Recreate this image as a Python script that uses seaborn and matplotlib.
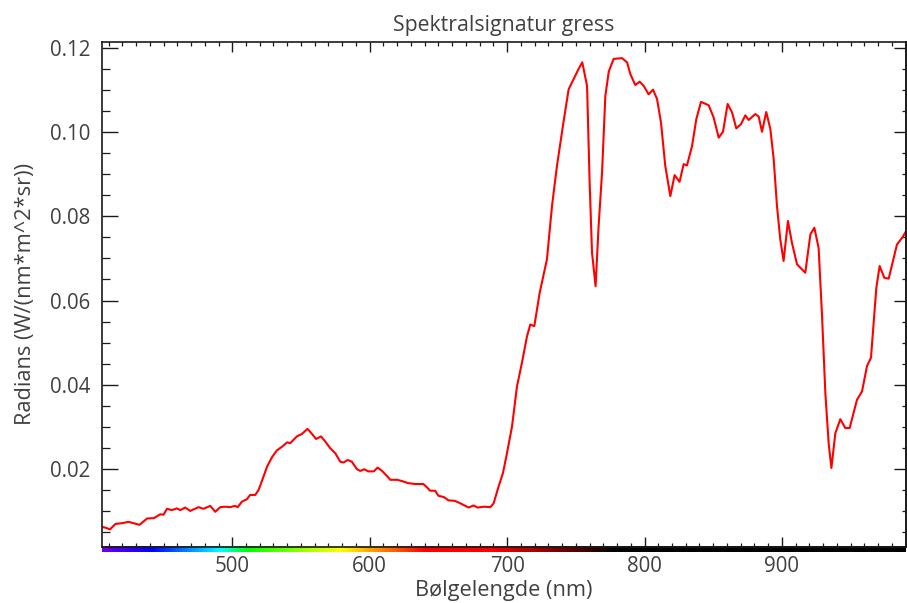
import numpy as np
import pandas as pd
import matplotlib
matplotlib.use("Agg")
import matplotlib.pyplot as plt
from matplotlib.colors import LinearSegmentedColormap
from matplotlib.ticker import MultipleLocator, FormatStrFormatter, NullFormatter
import seaborn as sns

# ---- data ----
wavelength = [404, 408, 411, 415, 420, 424.5, 428, 432.5, 438, 443, 447.6, 450, 452.5, 456, 459.7,
              462.2, 465.8, 469.4, 475.5, 479, 484, 487.6, 491.3, 495, 498.5, 502, 504, 507, 510.7,
              513, 516.7, 519.2, 522.8, 525.3, 529, 532.5, 536, 540, 542.2, 547, 550.7, 554.8, 558,
              561, 564.6, 567.7, 571.3, 575, 578.6, 581, 584, 587, 590.8, 593.2, 596, 599, 603,
              605.8, 609, 612.6, 615, 620, 623.5, 628, 633, 639, 641.7, 644, 647.7, 650, 654,
              657.4, 662, 666, 672, 675.6, 678.5, 683, 687.8, 690.2, 693.8, 697, 699.9, 703.6,
              707.2, 710.8, 714.5, 716.9, 719.8, 723.7, 729, 732.7, 736.3, 741, 744.8, 748.4, 752,
              754.7, 758.2, 760, 761.8, 764.4, 766.6, 769.1, 771.5, 774, 777.5, 783.6, 787.3, 789.7,
              793.3, 796.5, 799.4, 803, 806.2, 809.1, 812, 815.1, 818.8, 821.9, 825.5, 828.5, 830.9,
              834.6, 837.7, 841.1, 846.7, 850.3, 854, 857.1, 860.5, 863.7, 866.8, 870.2, 873.4,
              875.8, 880.6, 883.1, 885.5, 888.6, 891.6, 894, 896.4, 898.8, 901.2, 904.4, 907.3, 911,
              917, 920.7, 923.6, 926.7, 929.2, 931.6, 934, 936, 938.9, 942.5, 946.1, 949.3, 954.6,
              958.3, 961.9, 964.8, 968.7, 971.1, 974.5, 977.7, 983.7, 988.1, 991]
radiance = [0.0063, 0.0060, 0.0056, 0.0069, 0.0071, 0.0074, 0.0071, 0.0067, 0.0082, 0.0083, 0.0092,
            0.0091, 0.0105, 0.0102, 0.0106, 0.0102, 0.0108, 0.0100, 0.0109, 0.0105, 0.0112, 0.0098,
            0.0109, 0.0110, 0.0109, 0.0112, 0.0109, 0.0122, 0.0128, 0.0138, 0.0138, 0.0150, 0.0182,
            0.0205, 0.0228, 0.0244, 0.0252, 0.0263, 0.0261, 0.0277, 0.0283, 0.0295, 0.0283, 0.0271,
            0.0277, 0.0265, 0.0249, 0.0237, 0.0217, 0.0215, 0.0221, 0.0217, 0.0199, 0.0195, 0.0199,
            0.0194, 0.0194, 0.0203, 0.0195, 0.0183, 0.0174, 0.0174, 0.0171, 0.0166, 0.0164, 0.0164,
            0.0156, 0.0148, 0.0148, 0.0136, 0.0133, 0.0125, 0.0124, 0.0118, 0.0108, 0.0113, 0.0108,
            0.0110, 0.0109, 0.0118, 0.0158, 0.0190, 0.0237, 0.0301, 0.0396, 0.0452, 0.0515, 0.0543,
            0.0539, 0.0618, 0.0698, 0.0825, 0.0920, 0.1023, 0.1102, 0.1126, 0.1150, 0.1166, 0.1110,
            0.0888, 0.0714, 0.0634, 0.0777, 0.0904, 0.1086, 0.1144, 0.1174, 0.1176, 0.1166, 0.1138,
            0.1112, 0.1120, 0.1110, 0.1090, 0.1101, 0.1079, 0.1023, 0.0920, 0.0848, 0.0898, 0.0882,
            0.0924, 0.0921, 0.0967, 0.1031, 0.1072, 0.1064, 0.1035, 0.0987, 0.1001, 0.1067, 0.1047,
            0.1009, 0.1019, 0.1040, 0.1029, 0.1043, 0.1037, 0.1001, 0.1048, 0.1007, 0.0936, 0.0825,
            0.0745, 0.0694, 0.0789, 0.0737, 0.0686, 0.0666, 0.0757, 0.0773, 0.0725, 0.0563, 0.0380,
            0.0261, 0.0202, 0.0285, 0.0318, 0.0297, 0.0297, 0.0364, 0.0384, 0.0444, 0.0464, 0.0630,
            0.0682, 0.0654, 0.0652, 0.0733, 0.0752, 0.0769]

x_major_ticks = [500, 600, 700, 800, 900]
y_major_ticks = [0.02, 0.04, 0.06, 0.08, 0.10, 0.12]

title_text = "Spektralsignatur gress"
xlabel_text = "Bølgelengde (nm)"
ylabel_text = "Radians (W/(nm*m^2*sr))"

# spectrum colour stops (wavelength nm, colour)
spectrum_nm = [400, 440, 490, 510, 578, 640, 688, 780, 1000]
spectrum_col = ["#7a00e0", "#0000ff", "#00ffff", "#00ff00", "#ffff00", "#ff0000",
                "#ff0000", "#000000", "#000000"]

XMIN, XMAX = 405, 990
YMIN, YMAX = 0.0015, 0.1215

df = pd.DataFrame({"nm": wavelength, "rad": radiance})

sns.set_style("white")
plt.rcParams["font.family"] = ["Open Sans", "DejaVu Sans"]
TXT = "#404040"
AX = "#1a1a1a"

W, H = 907, 603
fig = plt.figure(figsize=(W / 100, H / 100), dpi=100)
left, right, top, bottom = 101.7, 905.6, 41.7, 546.7
ax = fig.add_axes([left / W, 1 - bottom / H, (right - left) / W, (bottom - top) / H])

sns.lineplot(data=df, x="nm", y="rad", ax=ax, color="#ff0000", linewidth=1.5,
             estimator=None, sort=False)

# spectral colour band just under the x axis (x in data, y in axes units)
pos = [(v - spectrum_nm[0]) / (spectrum_nm[-1] - spectrum_nm[0]) for v in spectrum_nm]
cmap = LinearSegmentedColormap.from_list("spec", list(zip(pos, spectrum_col)))
band_h = 5.5 / (bottom - top)
grad = np.linspace(XMIN, XMAX, 600)[None, :]
ax.imshow(grad, extent=[XMIN, XMAX, -band_h, 0], aspect="auto", cmap=cmap,
          vmin=spectrum_nm[0], vmax=spectrum_nm[-1], origin="lower",
          transform=ax.get_xaxis_transform(), clip_on=False, zorder=3)

ax.set_aspect("auto")
ax.set_xlim(XMIN, XMAX)
ax.set_ylim(YMIN, YMAX)
ax.set_xticks(x_major_ticks)
ax.set_yticks(y_major_ticks)
ax.xaxis.set_minor_locator(MultipleLocator(10))
ax.yaxis.set_minor_locator(MultipleLocator(0.005))
ax.yaxis.set_major_formatter(FormatStrFormatter("%.2f"))

for s in ax.spines.values():
    s.set_color(AX)
    s.set_linewidth(1.2)
    s.set_visible(True)
    s.set_zorder(4)

ax.tick_params(axis="x", which="major", direction="in", length=7, width=1.0, color=AX,
               top=True, bottom=True, labelsize=14.8, labelcolor=TXT, pad=7)
ax.tick_params(axis="x", which="minor", direction="in", length=3, width=0.9, color=AX,
               top=True, bottom=True)
ax.tick_params(axis="y", which="major", direction="in", length=11.5, width=1.0, color=AX,
               left=True, right=False, labelsize=14.8, labelcolor=TXT, pad=8)
ax.tick_params(axis="y", which="minor", direction="in", length=5.8, width=0.9, color=AX,
               left=True, right=False)

# right-side ticks with their own (shorter) lengths
sec = ax.secondary_yaxis("right")
sec.set_yticks(y_major_ticks)
sec.yaxis.set_minor_locator(MultipleLocator(0.005))
sec.yaxis.set_major_formatter(NullFormatter())
sec.tick_params(axis="y", which="major", direction="in", length=9, width=1.0, color=AX,
                labelright=False)
sec.tick_params(axis="y", which="minor", direction="in", length=3, width=0.9, color=AX)
for s in sec.spines.values():
    s.set_color(AX)
    s.set_linewidth(1.2)

ax.set_xlabel(xlabel_text, fontsize=15.7, color=TXT, labelpad=2)
ax.set_ylabel(ylabel_text, fontsize=15.7, color=TXT, labelpad=10)
ax.set_title(title_text, fontsize=15.3, color=TXT, pad=8)

fig.savefig("out.png", dpi=100, facecolor="white")
